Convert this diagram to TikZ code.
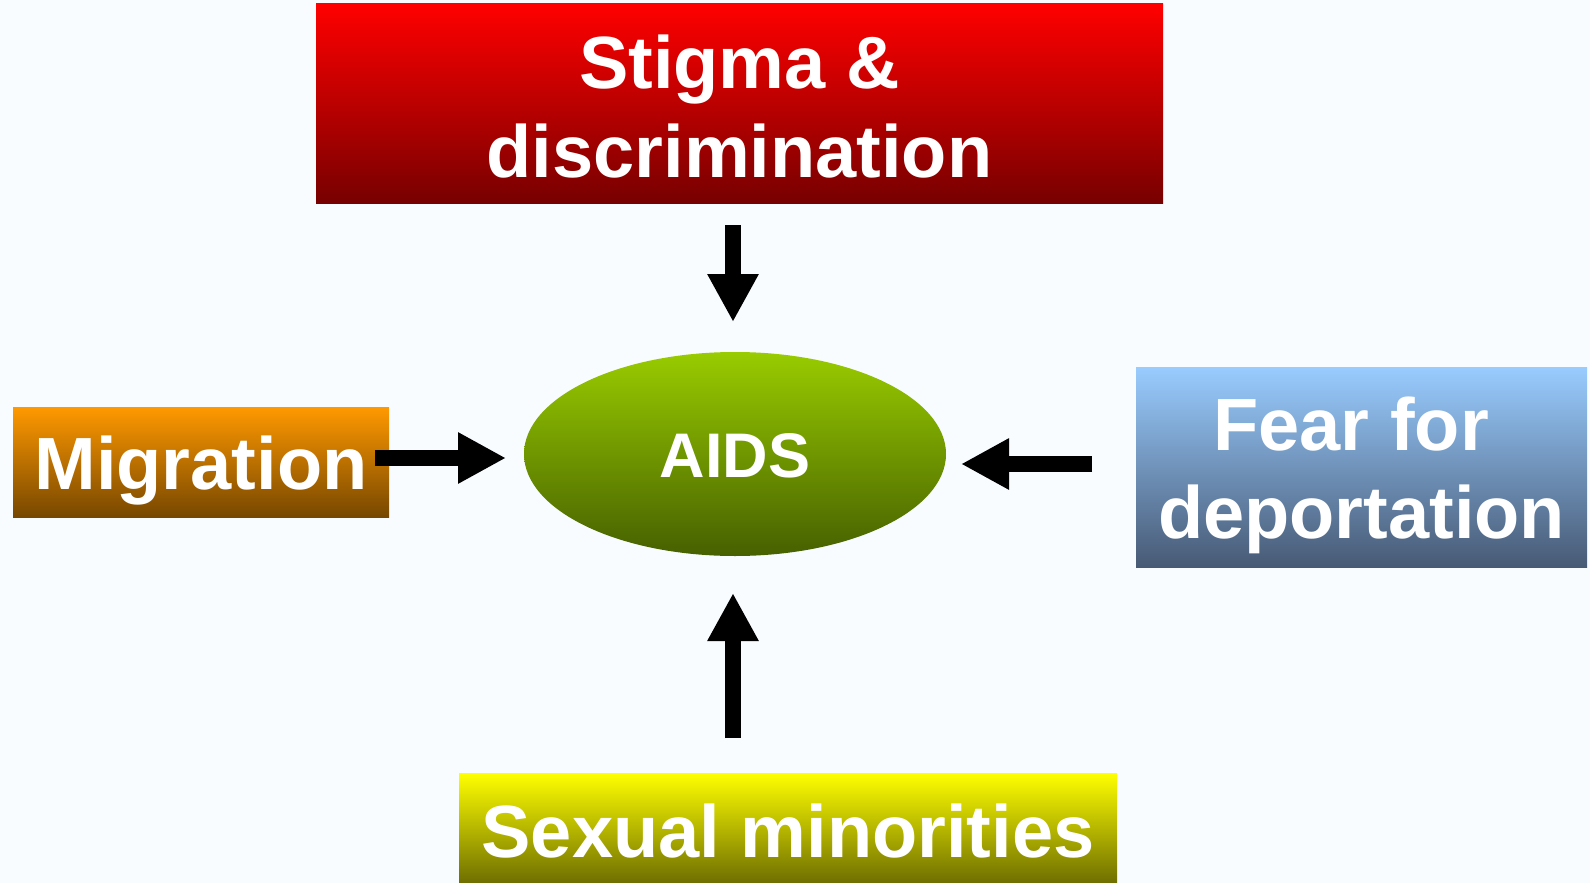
\documentclass[tikz,border=0pt]{standalone}
\usepackage{fontspec}
\setmainfont{Liberation Sans}
\usetikzlibrary{arrows.meta,shapes.geometric}
\definecolor{bgc}{HTML}{F8FCFF}
\definecolor{redtop}{HTML}{FF0000}
\definecolor{redbot}{HTML}{770000}
\definecolor{orgtop}{HTML}{FF9900}
\definecolor{orgbot}{HTML}{774700}
\definecolor{blutop}{HTML}{99CCFF}
\definecolor{blubot}{HTML}{475A75}
\definecolor{yeltop}{HTML}{FFFF00}
\definecolor{yelbot}{HTML}{6E6E00}
\definecolor{grntop}{HTML}{99CC00}
\definecolor{grnbot}{HTML}{466000}
\tikzset{
  box/.style={rectangle, inner sep=0pt, text=white, align=center,
    font=\bfseries\fontsize{74}{89}\selectfont},
  oval/.style={ellipse, inner sep=0pt, text=white,
    font=\bfseries\fontsize{63}{70}\selectfont},
  blockarrow/.style={line width=16pt, draw=black,
    -{Triangle[length=48pt,width=48pt]}},
}
\begin{document}
\begin{tikzpicture}[x=1pt,y=-1pt]
\fill[bgc] (0,0) rectangle (1590,883);
\useasboundingbox (0,0) rectangle (1590,883);

\node[box, top color=redtop, bottom color=redbot,
  minimum width=847pt, minimum height=199pt,
  text height=147pt, text depth=0pt] (stigma) at (739.5,103.5)
  {Stigma \&\\discrimination};

\node[box, top color=orgtop, bottom color=orgbot,
  minimum width=376pt, minimum height=110pt,
  text height=54pt, text depth=0pt] (migr) at (201,462) {Migration};

\node[box, top color=blutop, bottom color=blubot,
  minimum width=451pt, minimum height=200pt,
  text height=142pt, text depth=0pt, font=\bfseries\fontsize{74}{88}\selectfont] (fear) at (1361.5,467)
  {Fear for\kern0.278em\\deportation};

\node[box, top color=yeltop, bottom color=yelbot,
  minimum width=658pt, minimum height=110pt,
  text height=58pt, text depth=0pt] (sex) at (788,828) {Sexual minorities};

\node[oval, top color=grntop, bottom color=grnbot,
  minimum width=422pt, minimum height=204pt,
  text height=46pt, text depth=0pt] (aids) at (735,454) {AIDS};

\coordinate (t1) at (733,225);
\coordinate (t2) at (733,322);
\coordinate (l1) at (375,458);
\coordinate (l2) at (506,458);
\coordinate (r1) at (1092,464);
\coordinate (r2) at (961,464);
\coordinate (b1) at (733,738);
\coordinate (b2) at (733,593);

\draw[blockarrow] (t1) -- (t2);
\draw[blockarrow] (l1) -- (l2);
\draw[blockarrow] (r1) -- (r2);
\draw[blockarrow] (b1) -- (b2);
\end{tikzpicture}
\end{document}
